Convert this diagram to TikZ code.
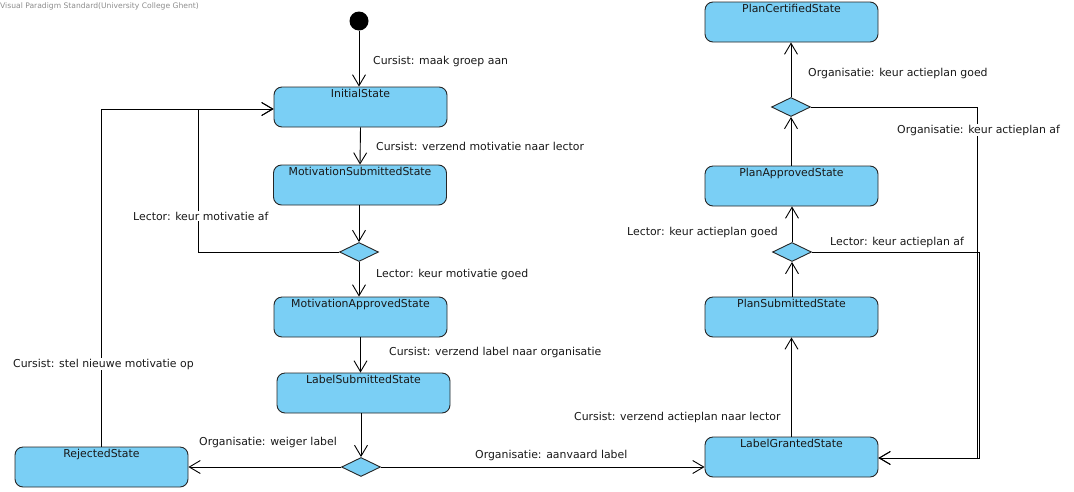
\documentclass[tikz,border=0pt]{standalone}
\usepackage{fontspec}
\setmainfont{DejaVu Sans}
\usetikzlibrary{arrows.meta,shapes.geometric}
\definecolor{stfill}{RGB}{122,207,245}
\definecolor{txt}{RGB}{25,25,25}
\begin{document}
\begin{tikzpicture}[x=1pt,y=-1pt,
  every node/.style={font=\fontsize{10.9}{13}\selectfont, text=txt},
  st/.style={draw=black!85, fill=stfill, rounded corners=8pt, line width=0.9pt,
    minimum width=173pt, minimum height=40pt, inner sep=0pt,
    label={[anchor=north, inner sep=2pt, text=txt]north:#1}},
  dec/.style={diamond, draw=black!85, fill=stfill, line width=0.9pt, inner sep=0pt,
    minimum width=39pt, minimum height=19pt},
  tr/.style={-{Straight Barb[length=11pt,width=13pt,line width=0.9pt]}, line width=0.9pt, draw=black},
  lab/.style={anchor=base west, fill=white, inner sep=1pt}]
\useasboundingbox (0,0) rectangle (1074,491);
\node[anchor=base west, inner sep=0pt, text=black!45, font=\fontsize{7.6}{8}\selectfont] (wm) at (0,8) {Visual Paradigm Standard(University College Ghent)};
% states
\node[circle, fill=black, minimum size=19pt, inner sep=0pt] (start) at (359,21) {};
\node[st=InitialState] (init) at (360.5,107) {};
\node[st=MotivationSubmittedState] (msub) at (360,185) {};
\node[dec] (d1) at (359,252) {};
\node[st=MotivationApprovedState] (mapp) at (360.5,317) {};
\node[st=LabelSubmittedState] (lsub) at (363.5,393) {};
\node[dec] (d2) at (361,467) {};
\node[st=RejectedState] (rej) at (101.5,467) {};
\node[st=LabelGrantedState] (lgr) at (791.5,457) {};
\node[st=PlanSubmittedState] (psub) at (791.5,317) {};
\node[dec] (d3) at (792,252) {};
\node[st=PlanApprovedState] (papp) at (791.5,186) {};
\node[dec] (d4) at (791,107) {};
\node[st=PlanCertifiedState] (pcert) at (791.5,22) {};
% bend points
\coordinate (k1) at (198,109);
\coordinate (k2) at (979,252);
\coordinate (k3) at (977,107);
\coordinate (k4) at (979,458);
% transitions
\draw[tr] (start) -- (start |- init.north);
\draw[tr] (init.south) -- (msub.north);
\draw[tr] (d1.north |- msub.south) -- (d1.north);
\draw[tr] (d1.west) -| (k1) -- (init.west |- k1);
\draw[tr] (d1.south) -- (d1.south |- mapp.north);
\draw[tr] (mapp.south) -- (mapp.south |- lsub.north);
\draw[tr] (d2.north |- lsub.south) -- (d2.north);
\draw[tr] (d2.west) -- (rej.east |- d2.west);
\draw[tr] (d2.east) -- (lgr.west |- d2.east);
\draw[tr] (rej.north) |- (init.west |- k1);
\draw[tr] (lgr.north) -- (psub.south);
\draw[tr] (d3.south |- psub.north) -- (d3.south);
\draw[tr] (d3.north) -- (d3.north |- papp.south);
\draw[tr] (d3.east) -- (k2) -- (k4) -- (lgr.east |- k4);
\draw[tr] (d4.south |- papp.north) -- (d4.south);
\draw[tr] (d4.north) -- (d4.north |- pcert.south);
\draw[tr] (d4.east) -- (k3) -- (k3 |- k4) -- (lgr.east |- k4);
% labels
\node[lab] (l1) at (372,64) {Cursist: maak groep aan};
\node[lab] (l2) at (375,150) {Cursist: verzend motivatie naar lector};
\node[lab] (l3) at (132,220) {Lector: keur motivatie af};
\node[lab] (l4) at (375,277) {Lector: keur motivatie goed};
\node[lab] (l5) at (388,355) {Cursist: verzend label naar organisatie};
\node[lab] (l6) at (12,367) {Cursist: stel nieuwe motivatie op};
\node[lab] (l7) at (198,445) {Organisatie: weiger label};
\node[lab] (l8) at (474,458) {Organisatie: aanvaard label};
\node[lab] (l9) at (573,420) {Cursist: verzend actieplan naar lector};
\node[lab] (l10) at (626,235) {Lector: keur actieplan goed};
\node[lab] (l11) at (829,245) {Lector: keur actieplan af};
\node[lab] (l12) at (807,76) {Organisatie: keur actieplan goed};
\node[lab] (l13) at (896,133) {Organisatie: keur actieplan af};
\end{tikzpicture}
\end{document}
